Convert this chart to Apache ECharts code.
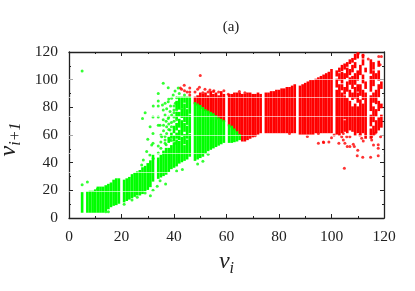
<!DOCTYPE html>
<html><head><meta charset="utf-8">
<style>html,body{margin:0;padding:0;background:#fff}#c{width:415px;height:291px}</style>
<script src="https://cdn.jsdelivr.net/npm/echarts@6/dist/echarts.min.js"></script>
</head><body><div id="c"></div>
<script>
const xTicks = [0,20,40,60,80,100,120];
const yTicks = [0,20,40,60,80,100,120];
const titleText = '(a)';
// dense columns: [v_i, lowest v_i+1, highest v_i+1]
const greenColumns = [
[5,4.5,18],[7,4.5,18.5],[8,4.5,19],[9,4.5,19],[10,4.5,20],[11,4.5,22],[12,4.5,22],[13,4.5,22],[14,5.5,23],[15,7,24],[16,8.5,25],[17,9.5,27],[18,10,28],[19,11,28],
[21,12,27],[22,13,28],[23,14,29],[24,15,31],[25,16,32],[26,17,33],[27,17,34],[28,18,36],[29,20,37],[30,21,39],[31,23,41],[32,27,45],
[34,29,43],[35,30,45],[36,31,48],[37,32,50],[38,34,50],[38,55,58],[39,36,52],[39,58,61],
[40,37,54],[40,56,59],[40,62,66],[41,38,56],[41,58,61],[41,64,68],[41,72,76],[41,79,84],
[42,40,55],[42,57,63],[42,66,71],[42,74,76],[42,79,87],[43,41,58],[43,60,70],[43,73,78],[43,80,87],
[44,42,52],[44,54,60],[44,63,68],[44,70,82],[44,84,87],[45,43,56],[45,58,66],[45,68,78],[45,80,87],[46,45,60],[46,62,74],[46,76,87],
[48,42,83],[49,43,82],[50,44,81],[51,45,79.5],[52,47,78],[53,49,77],[54,50,76],[55,51,75],[56,52,73.5],[57,53,72],[58,54,71],[59,55,70],
[61,55,67],[62,55,66],[63,55.5,64],[64,56,62],[65,57,60]
];
const redColumns = [
[48,83,87],[49,82,88],[50,81,90],[51,79.5,89],[52,78,90],[53,77,88],[54,76,91],[55,75,89],[56,73.5,90],[57,72,88],[58,71,91],[59,70,89],
[61,67,89],[62,66,89],[63,64,90],[64,62,90],[65,60,90],[66,56,89],[67,56,89],[68,57,90],[69,58,90],[70,59,89],[71,60,89],[72,61,90],[73,62,89],
[75,62,90],[76,62,90],[77,62,91],[78,62,91],[79,62,92],[80,62,92],[81,62,93],[82,62,93],[83,62,94],[84,62,94],[85,62,95],[86,62,96],
[88,61,95],[89,61,96],[90,61,97],[91,61,98],[92,61,99],[93,61,99],[94,62,100],[95,62,101],[96,62,102],[97,62,103],[98,62,104],[99,62,105],[100,62,107],
[102,61,92],[102,95,100],[102,103,106],[103,60,88],[103,89,96],[103,100,104],[103,106,108],
[104,62,90],[104,93,96],[104,98,105],[104,107,110],[105,63,70],[105,72,88],[105,90,94],[105,101,104],[105,108,111],
[106,62,86],[106,92,98],[106,102,108],[106,110,112],[107,64,84],[107,88,92],[107,97,101],[107,104,107],[107,112,114],
[108,63,80],[108,86,90],[108,94,102],[108,106,110],[108,113,115],[109,60,82],[109,87,94],[109,97,104],[109,109,112],[109,115,118],
[110,62,80],[110,84,90],[110,92,96],[110,100,106],[110,116,119],[111,60,85],[111,89,96],[111,104,110],
[112,62,82],[112,86,92],[112,98,103],[112,111,114],[112,116,118],[113,58,90],[113,94,98],[113,106,108],
[115,58,64],[115,67,74],[115,78,88],[115,92,102],[115,105,114],[116,60,66],[116,70,80],[116,84,90],[116,96,106],[116,108,112],
[117,62,70],[117,74,78],[117,83,92],[117,101,104],[118,64,72],[118,78,84],[118,88,96],[118,100,106],[118,110,113],[119,66,74],[119,80,82],[119,94,98]
];
const greenDots = [
[5,106.3],[5,24],[7,26],[10.8,21],[14,4.5],[15,4.5],
[35.9,97.4],[37.8,94.2],[40.4,91.8],[41.6,94],[39.7,89],[39.1,86.5],[34,90],[34,84.6],[34,81],[32.1,81],[29,76],[28,72],[32,73],[34,73],
[35.6,81.7],[36.6,83],[37.8,84],[35.9,78],[37.2,79],[38.5,77],[36.6,74.5],[37.8,72],[39.1,74.5],[35.9,71],[34.7,67],[30.9,66],[34,67],[32,61],
[37.2,66],[38.5,63.6],[37.2,61],[35.3,58.8],[30,57],[36.6,56.4],[38.5,56.4],[32,54],[40.4,54],[40,76],[40.5,83],[41,87],[38.7,81],[36.6,59],
[31.5,52.8],[29.6,48],[30.8,45.6],[32.1,43],[28.3,42],[35,50.4],[27.7,38.4],[36.6,54],[33.6,23],[34.7,27],[36.8,24.5],[41,34],[43.2,35],
[49,39],[51,41],[53,46],[26,15],[29,18],[31,16],[32,20],[24,13],[21,10],
[38,64],[39,66],[39,69],[40,70],[40,73],[40,78],[41,71],[41,78],[38,68],[38,73],[37,70],[36,63],[36,67],[35,55],[34,47],[34,52],[35,60],[37,53],[39,56],[40,81],[42,90],[44,89],[43,79],[38,86]
];
const redDots = [
[43.9,96],[50,103],[42.4,94],[46,94],[46,91],[46,89],[44,92],[45,91],[42.9,93],
[49.7,94.5],[51.8,93],[53.7,92.6],[55.2,92],[60.7,89.5],[64.9,91.4],[67,90.5],[48,91],[49,93],[51,90.5],[53,91],[55,91.5],[57,91],[59,92],
[70.9,59.5],[84,61],[90.8,59],[95,61],[95,54],[97,54.5],[96.9,55],[99,55],[101,60],[100,58],
[102.8,54],[104.5,56.4],[105.1,54],[106,51.6],[107,51.6],[108.3,53.3],[108.7,51.6],[110,49],[109.8,45],[111.9,44],[114.9,44],[117.8,45],[117.8,50.4],[117.8,53],
[104.9,36],[107,58.8],[111.5,57.6],[112.1,55.7],[115.3,56.4],[116,52.8],[118.7,58.8],[104.5,61],[105.8,58.8],[103.9,58.8],[110.8,60],[115.3,58.8],[116.6,61.2],
[118,116.7],[119,116.7],[118.5,110.7],[110.2,119],[112,117.5],[114,115]
];
// faint white lattice lines visible across the dense block
const latticeRows = [19.6,33,46.5,60,73.6,87,100.5];

const ink = '#222';
const serif = '"Liberation Serif","Times New Roman",serif';
const chart = echarts.init(document.getElementById('c'), null, {renderer:'canvas'});
function columnSeries(data, color){
  return {
    type:'custom', data, clip:true, silent:true, animation:false,
    encode:{x:0,y:[1,2]},
    renderItem(params, api){
      const a = api.coord([api.value(0)-0.5, api.value(2)+0.7]);
      const b = api.coord([api.value(0)+0.5, api.value(1)-0.7]);
      return {type:'rect', shape:{x:a[0], y:a[1], width:b[0]-a[0], height:b[1]-a[1]}, style:{fill:color}};
    }
  };
}
function dotSeries(data, color){
  return {type:'scatter', data, symbol:'circle', symbolSize:3, itemStyle:{color}, silent:true, animation:false, clip:true};
}
const tickAxis = {
  min:0, max:120, interval:20,
  axisLine:{show:true, onZero:false, lineStyle:{color:ink, width:1.3}},
  axisTick:{show:true, inside:true, length:4, lineStyle:{color:ink, width:1}},
  minorTick:{show:true, splitNumber:2, length:2, lineStyle:{color:ink, width:1}},
  splitLine:{show:false}
};
const labelStyle = {color:'#222', fontFamily:serif, fontSize:15.5};
chart.setOption({
  animation:false,
  backgroundColor:'#fff',
  title:{text:titleText, left:226, top:15, textAlign:'center',
    textStyle:{color:'#222', fontFamily:serif, fontSize:15, fontWeight:'normal'}},
  grid:{left:69, right:31, top:52, bottom:73, outerBoundsMode:'none', containLabel:false},
  xAxis:[
    Object.assign({}, tickAxis, {type:'value', position:'bottom',
      axisLabel:Object.assign({}, labelStyle, {margin:11, formatter:v=>xTicks.includes(v)?String(v):''}),
      name:'{v|v}{s|i}', nameLocation:'middle', nameGap:29,
      nameTextStyle:{rich:{
        v:{fontFamily:serif, fontStyle:'italic', fontSize:24, color:'#222'},
        s:{fontFamily:serif, fontStyle:'italic', fontSize:16, color:'#222', padding:[14,0,0,0]}}}}),
    Object.assign({}, tickAxis, {type:'value', position:'top', axisLabel:{show:false}})
  ],
  yAxis:[
    Object.assign({}, tickAxis, {type:'value', position:'left',
      axisLabel:Object.assign({}, labelStyle, {margin:11, formatter:v=>yTicks.includes(v)?String(v):''}),
      name:'{v|v}{s|i+1}', nameLocation:'middle', nameGap:34, nameRotate:90,
      nameTextStyle:{padding:[0,9,0,0], rich:{
        v:{fontFamily:serif, fontStyle:'italic', fontSize:24, color:'#222'},
        s:{fontFamily:serif, fontStyle:'italic', fontSize:16, color:'#222', padding:[14,0,0,0]}}}}),
    Object.assign({}, tickAxis, {type:'value', position:'right', axisLabel:{show:false}})
  ],
  series:[
    columnSeries(redColumns,'#ff0000'),
    columnSeries(greenColumns,'#00ff00'),
    dotSeries(redDots,'#ff0000'),
    Object.assign(dotSeries(greenDots,'#00ff00'),{
      markLine:{silent:true, symbol:'none', label:{show:false}, animation:false,
        lineStyle:{color:'#fff', width:1, type:'solid', opacity:0.6},
        data:latticeRows.map(v=>({yAxis:v}))}
    })
  ]
});
</script></body></html>
